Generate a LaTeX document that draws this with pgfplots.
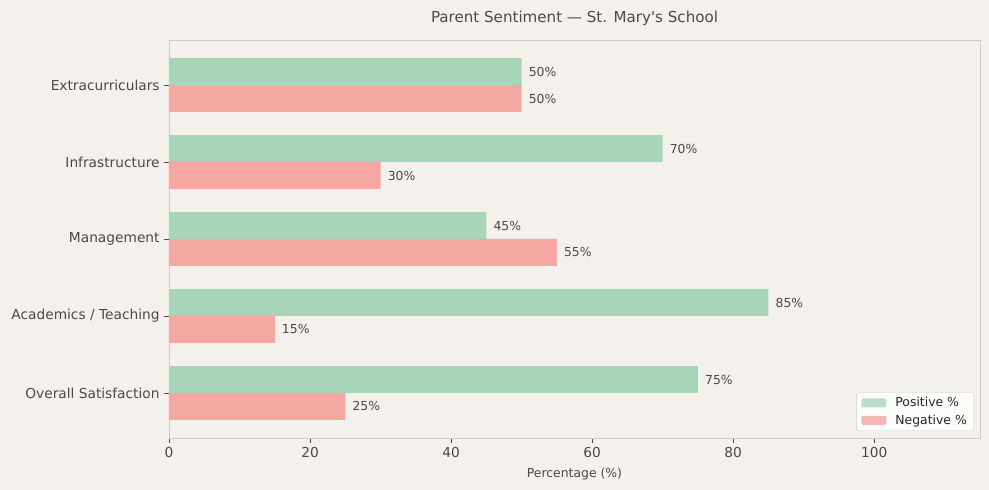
\documentclass[border=0pt]{standalone}
\usepackage{pgfplots}
\pgfplotsset{compat=1.18}
\usepackage{fontspec}
\setmainfont{DejaVu Sans}
\definecolor{bg}{HTML}{F4F0EC}
\definecolor{pos}{HTML}{A8D5BA}
\definecolor{neg}{HTML}{F5A8A2}
\definecolor{txt}{HTML}{4A4A4A}
\definecolor{frame}{HTML}{CCCCCC}

\begin{document}
\begin{tikzpicture}[x=1pt,y=1pt]
\fill[bg] (-169,-52) rectangle (820,438);
\begin{axis}[
  at={(0,0)}, anchor=south west,
  width=811pt, height=398pt, scale only axis,
  xbar, bar width=0.35,
  xmin=0, xmax=115, ymin=-0.585, ymax=4.585,
  ytick={0,1,2,3,4},
  yticklabels={Overall Satisfaction, Academics / Teaching, Management, Infrastructure, Extracurriculars},
  xtick={0,20,40,60,80,100},
  /pgf/number format/assume math mode=true,
  axis background/.style={fill=bg},
  axis line style={frame, line width=0.8pt},
  tick style={color=txt, line width=0.8pt},
  tick align=outside, major tick length=4.9pt,
  xtick pos=lower, ytick pos=left,
  ticklabel style={font=\fontsize{13.75}{16}\selectfont, text=txt},
  xticklabel style={yshift=-1pt},
  yticklabel style={xshift=-1pt},
  title={Parent Sentiment — St. Mary\textquotesingle s School},
  title style={font=\fontsize{15.1}{18}\selectfont, text=txt, at={(0.5,1)}, anchor=base, yshift=11.5pt},
  xlabel={Percentage (\%)},
  xlabel style={font=\fontsize{12.4}{15}\selectfont, text=txt, at={(0.5,0)}, anchor=base, yshift=-39.5pt},
  nodes near coords={\pgfmathprintnumber{\pgfplotspointmeta}\%},
  point meta=x,
  every node near coord/.append style={font=\fontsize{12.4}{15}\selectfont, text=txt, anchor=west, inner sep=0pt, xshift=7pt},
  legend cell align=left,
  legend style={at={(1,0)}, anchor=south east, xshift=-6pt, yshift=7pt,
    fill=white, fill opacity=0.8, text opacity=1, draw=frame, rounded corners=2pt,
    font=\fontsize{12.4}{15}\selectfont, text=black!85,
    row sep=2.5pt, inner xsep=5pt, inner ysep=3pt,
    /tikz/every odd column/.append style={column sep=7pt}},
  legend image code/.code={\fill[#1] (0pt,-4.5pt) rectangle (25pt,4.5pt);},
]
% Positive share, drawn above the category line
\addplot[fill=pos, draw=none, bar shift=0.175] coordinates {
  (75,0) (85,1) (45,2) (70,3) (50,4)
};
\addlegendentry{Positive \%}
% Negative share, drawn below the category line
\addplot[fill=neg, draw=none, bar shift=-0.175] coordinates {
  (25,0) (15,1) (55,2) (30,3) (50,4)
};
\addlegendentry{Negative \%}
\end{axis}
\end{tikzpicture}
\end{document}
